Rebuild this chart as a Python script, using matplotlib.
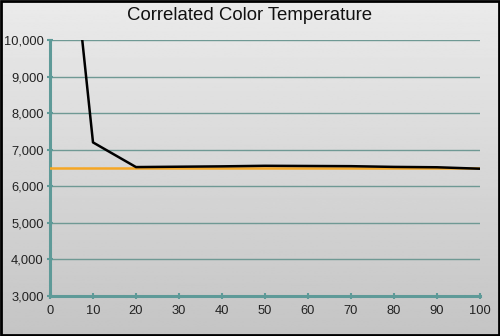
import numpy as np
import matplotlib.pyplot as plt
from matplotlib.ticker import FuncFormatter

plt.rcParams['font.family'] = ['Liberation Sans', 'DejaVu Sans']

# measured CCT per stimulus level
levels = [0, 10, 20, 30, 40, 50, 60, 70, 80, 90, 100]
cct = [18400, 7200, 6525, 6535, 6545, 6560, 6555, 6550, 6530, 6520, 6480]
target = [6500] * len(levels)

fig = plt.figure(figsize=(5, 3.36), dpi=100)

# gradient background for the whole picture
bg = fig.add_axes([0, 0, 1, 1], zorder=-1)
grad = np.linspace(0.92, 0.77, 256).reshape(-1, 1)
bg.imshow(grad, cmap='gray', vmin=0, vmax=1, aspect='auto', extent=[0, 1, 0, 1])
bg.set_axis_off()
fig.patches.append(plt.Rectangle((0.002, 0.003), 0.996, 0.994, transform=fig.transFigure,
                                 fill=False, edgecolor='black', linewidth=2))

ax = fig.add_axes([0.1, 0.119, 0.86, 0.762])
ax.patch.set_alpha(0)

grid_c = '#6f9994'
ax.plot(levels, target, color='#f5a623', linewidth=1.8, zorder=3)
ax.plot(levels, cct, color='black', linewidth=1.8, zorder=4)

ax.set_xlim(0, 100)
ax.set_ylim(3000, 10000)
ax.set_xticks(range(0, 101, 10))
ax.set_yticks(range(3000, 10001, 1000))
ax.yaxis.set_major_formatter(FuncFormatter(lambda v, p: f'{int(v):,}'))
ax.grid(axis='y', color=grid_c, linewidth=1)
for s in ['top', 'right']:
    ax.spines[s].set_visible(False)
for s in ['left', 'bottom']:
    ax.spines[s].set_color('#5e9a98')
    ax.spines[s].set_linewidth(2.2)
ax.tick_params(axis='both', colors='#5e9a98', labelcolor='#222222', labelsize=9.3,
               direction='inout', length=5, width=1.5)
ax.tick_params(axis='x', pad=4)
ax.tick_params(axis='y', pad=2)

fig.text(0.5, 0.955, 'Correlated Color Temperature', ha='center', va='center',
         fontsize=13.4, color='#111111')

fig.savefig('out.png', dpi=100)
